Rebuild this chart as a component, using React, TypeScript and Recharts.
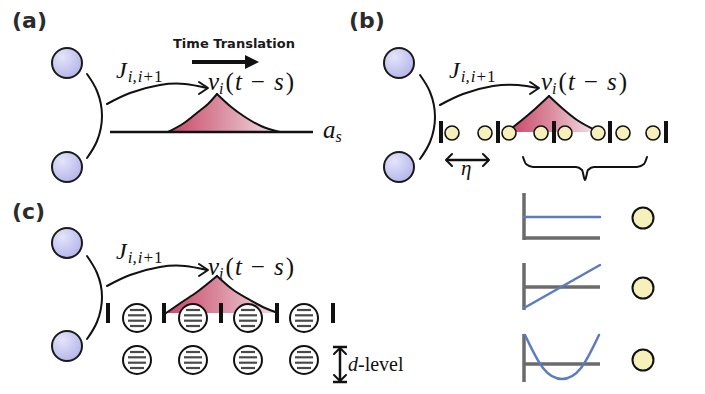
import React from "react";
import {
  ComposedChart,
  XAxis,
  YAxis,
  Line,
  Area,
  Scatter,
  ReferenceLine,
} from "recharts";

// diagram space = page pixels (x right, y down)
const spinNodes = [
  { x: 67, y: 63 },
  { x: 67, y: 167 },
  { x: 399, y: 63 },
  { x: 399, y: 167 },
  { x: 67, y: 243 },
  { x: 67, y: 346 },
];
const qubitSites = [
  { x: 452, y: 133 },
  { x: 485, y: 133 },
  { x: 509, y: 133 },
  { x: 541, y: 133 },
  { x: 565, y: 133 },
  { x: 598, y: 133 },
  { x: 623, y: 133 },
  { x: 653, y: 133 },
];
const basisSites = [
  { x: 643, y: 218 },
  { x: 643, y: 288 },
  { x: 643, y: 360 },
];
const quditSites = [
  { x: 137, y: 318 },
  { x: 193, y: 318 },
  { x: 248, y: 318 },
  { x: 304, y: 318 },
  { x: 137, y: 360 },
  { x: 193, y: 360 },
  { x: 248, y: 360 },
  { x: 304, y: 360 },
];

const brackets = [
  [
    { x: 87, y: 74 },
    { x: 97, y: 91 },
    { x: 102, y: 116 },
    { x: 97, y: 141 },
    { x: 87, y: 158 },
  ],
  [
    { x: 420, y: 75 },
    { x: 430, y: 92 },
    { x: 435, y: 117 },
    { x: 430, y: 142 },
    { x: 420, y: 159 },
  ],
  [
    { x: 87, y: 256 },
    { x: 97, y: 273 },
    { x: 102, y: 297 },
    { x: 97, y: 322 },
    { x: 87, y: 339 },
  ],
];

const couplingArcs = [
  [
    { x: 107, y: 104 },
    { x: 130, y: 93 },
    { x: 160, y: 85 },
    { x: 185, y: 84 },
    { x: 207, y: 88 },
  ],
  [
    { x: 440, y: 105 },
    { x: 463, y: 94 },
    { x: 493, y: 86 },
    { x: 518, y: 85 },
    { x: 538, y: 88 },
  ],
  [
    { x: 107, y: 286 },
    { x: 130, y: 275 },
    { x: 160, y: 267 },
    { x: 185, y: 266 },
    { x: 207, y: 270 },
  ],
];
const chevrons = [
  [{ x: 199, y: 82 }, { x: 208, y: 88 }, { x: 199, y: 94 }],
  [{ x: 530, y: 82 }, { x: 539, y: 88 }, { x: 530, y: 94 }],
  [{ x: 199, y: 264 }, { x: 208, y: 270 }, { x: 199, y: 276 }],
  // eta arrow
  [{ x: 452, y: 154 }, { x: 446, y: 160 }, { x: 452, y: 166 }],
  [{ x: 483, y: 154 }, { x: 489, y: 160 }, { x: 483, y: 166 }],
  // d-level arrow
  [{ x: 334, y: 354 }, { x: 340, y: 348 }, { x: 346, y: 354 }],
  [{ x: 334, y: 375 }, { x: 340, y: 381 }, { x: 346, y: 375 }],
];

// pulse v_i(t-s): rising and falling halves, [base, top]
const pulses = [
  {
    rise: [
      { x: 168, y: [132, 132] },
      { x: 184, y: [132, 123] },
      { x: 198, y: [132, 112] },
      { x: 208, y: [132, 104] },
      { x: 217, y: [132, 94] },
    ],
    fall: [
      { x: 217, y: [132, 94] },
      { x: 230, y: [132, 106] },
      { x: 245, y: [132, 117] },
      { x: 261, y: [132, 126] },
      { x: 280, y: [132, 132] },
    ],
  },
  {
    rise: [
      { x: 508, y: [132, 131] },
      { x: 522, y: [132, 120] },
      { x: 535, y: [132, 109] },
      { x: 549, y: [132, 96] },
    ],
    fall: [
      { x: 549, y: [132, 96] },
      { x: 562, y: [132, 108] },
      { x: 577, y: [132, 120] },
      { x: 595, y: [132, 130] },
    ],
  },
  {
    rise: [
      { x: 166, y: [313, 313] },
      { x: 182, y: [313, 302] },
      { x: 197, y: [313, 292] },
      { x: 217, y: [313, 276] },
    ],
    fall: [
      { x: 217, y: [313, 276] },
      { x: 232, y: [313, 289] },
      { x: 250, y: [313, 300] },
      { x: 265, y: [313, 308] },
      { x: 278, y: [313, 313] },
    ],
  },
];

const brace = [
  { x: 523, y: 157 },
  { x: 526, y: 164 },
  { x: 533, y: 167 },
  { x: 576, y: 167 },
  { x: 582, y: 170 },
  { x: 585, y: 180 },
  { x: 588, y: 170 },
  { x: 594, y: 167 },
  { x: 637, y: 167 },
  { x: 644, y: 164 },
  { x: 647, y: 157 },
];

const arrowHead = [
  { x: 245, y: [55, 69] },
  { x: 259, y: [62, 62] },
];

// straight segments [x1, y1, x2, y2]
const blackSegments = [
  [110, 132, 313, 132], // a_s chain
  [192, 62, 246, 62], // time translation shaft
  [446, 160, 489, 160], // eta
  [340, 348, 340, 381], // d-level
  [333, 347, 347, 347],
  [333, 382, 347, 382],
];
const barsB = [441, 498, 554, 610, 666];
const barsC = [108, 164, 221, 277, 333];

const plotAxes = [
  [524, 193, 524, 240],
  [524, 238, 600, 238],
  [524, 263, 524, 310],
  [524, 287, 600, 287],
  [524, 334, 524, 382],
  [524, 364, 600, 364],
];
const basisCurves = [
  [{ x: 524, y: 217 }, { x: 600, y: 217 }],
  [{ x: 524, y: 308 }, { x: 600, y: 265 }],
  [
    { x: 525, y: 335 },
    { x: 543, y: 368 },
    { x: 562, y: 379 },
    { x: 581, y: 368 },
    { x: 599, y: 335 },
  ],
];

const panelLabels = [
  { x: 12, y: 28, text: "(a)" },
  { x: 349, y: 28, text: "(b)" },
  { x: 12, y: 219, text: "(c)" },
];
const titleLabels = [{ x: 173, y: 48, text: "Time Translation" }];
const couplingLabels = [
  { x: 116, y: 78 },
  { x: 449, y: 78 },
  { x: 116, y: 259 },
];
const pulseLabels = [
  { x: 208, y: 90 },
  { x: 541, y: 90 },
  { x: 208, y: 275 },
];
const chainLabels = [{ x: 323, y: 138 }];
const etaLabels = [{ x: 461, y: 175 }];
const levelLabels = [{ x: 348, y: 371 }];

const INK = "#111";
const SERIF = "'Liberation Serif', serif";

const seg = (s: number[], i: string, color: string, w: number) => (
  <ReferenceLine
    key={i}
    segment={[
      { x: s[0], y: s[1] },
      { x: s[2], y: s[3] },
    ]}
    stroke={color}
    strokeWidth={w}
    ifOverflow="visible"
  />
);

const path = (
  pts: { x: number; y: number }[],
  key: string,
  type: any,
  color = INK,
  w = 2,
) => (
  <Line
    key={key}
    data={pts}
    dataKey="y"
    type={type}
    stroke={color}
    strokeWidth={w}
    dot={false}
    activeDot={false}
    strokeLinejoin="round"
    strokeLinecap="round"
    isAnimationActive={false}
  />
);

export default function App() {
  return (
    <div style={{ position: "absolute", left: 0, top: 0, background: "#fff" }}>
      <ComposedChart
        width={705}
        height={394}
        margin={{ top: 0, right: 0, bottom: 0, left: 0 }}
      >
        <defs>
          <radialGradient id="spin" cx="35%" cy="30%" r="75%">
            <stop offset="0%" stopColor="#e4e4fa" />
            <stop offset="100%" stopColor="#b4b5ea" />
          </radialGradient>
          <linearGradient id="rise" x1="0" y1="0" x2="1" y2="0">
            <stop offset="0%" stopColor="#ca446a" />
            <stop offset="100%" stopColor="#d9889c" />
          </linearGradient>
          <linearGradient id="fall" x1="0" y1="0" x2="1" y2="0">
            <stop offset="0%" stopColor="#d9889c" />
            <stop offset="100%" stopColor="#f3e1e6" />
          </linearGradient>
        </defs>
        <XAxis type="number" dataKey="x" domain={[0, 705]} hide allowDataOverflow />
        <YAxis
          type="number"
          dataKey="y"
          domain={[0, 394]}
          reversed
          hide
          allowDataOverflow
        />

        {pulses.map((p, i) => (
          <Area
            key={"r" + i}
            data={p.rise}
            dataKey="y"
            type="monotone"
            fill="url(#rise)"
            fillOpacity={1}
            stroke="none"
            isAnimationActive={false}
          />
        ))}
        {pulses.map((p, i) => (
          <Area
            key={"f" + i}
            data={p.fall}
            dataKey="y"
            type="monotone"
            fill="url(#fall)"
            fillOpacity={1}
            stroke="none"
            isAnimationActive={false}
          />
        ))}
        <Area
          data={arrowHead}
          dataKey="y"
          type="linear"
          fill={INK}
          fillOpacity={1}
          stroke="none"
          isAnimationActive={false}
        />

        {pulses.map((p, i) =>
          path(p.rise.map((d) => ({ x: d.x, y: d.y[1] })), "pr" + i, "monotone"),
        )}
        {pulses.map((p, i) =>
          path(p.fall.map((d) => ({ x: d.x, y: d.y[1] })), "pf" + i, "monotone"),
        )}
        {brackets.map((b, i) => path(b, "b" + i, "natural"))}
        {couplingArcs.map((b, i) => path(b, "c" + i, "natural"))}
        {chevrons.map((b, i) => path(b, "h" + i, "linear"))}
        {path(brace, "brace", "monotone")}

        {plotAxes.map((s, i) => seg(s, "ax" + i, "#6b6b6b", 3.5))}
        {basisCurves.map((b, i) => path(b, "bc" + i, "natural", "#5b7dbd", 2.5))}
        {blackSegments.map((s, i) =>
          seg(s, "s" + i, INK, i === 0 ? 2.5 : i === 1 ? 4 : 2.5),
        )}
        {barsB.map((x, i) => seg([x, 121, x, 143], "bb" + i, INK, 4))}
        {barsC.map((x, i) => seg([x, 303, x, 323], "bc" + i, INK, 4))}

        <Scatter
          data={spinNodes}
          isAnimationActive={false}
          shape={(p: any) => (
            <circle cx={p.cx} cy={p.cy} r={15} fill="url(#spin)" stroke="#1a1a1a" strokeWidth={2} />
          )}
        />
        <Scatter
          data={qubitSites}
          isAnimationActive={false}
          shape={(p: any) => (
            <circle cx={p.cx} cy={p.cy} r={7} fill="#f6f0ba" stroke={INK} strokeWidth={1.6} />
          )}
        />
        <Scatter
          data={basisSites}
          isAnimationActive={false}
          shape={(p: any) => (
            <circle cx={p.cx} cy={p.cy} r={10.5} fill="#f6f0ba" stroke={INK} strokeWidth={2} />
          )}
        />
        <Scatter
          data={quditSites}
          isAnimationActive={false}
          shape={(p: any) => (
            <g>
              <circle cx={p.cx} cy={p.cy} r={14} fill="#fff" stroke={INK} strokeWidth={2} />
              {[-8, -2.7, 2.7, 8].map((dy, k) => {
                const hw = Math.abs(dy) > 5 ? 7 : 9;
                return (
                  <line
                    key={k}
                    x1={p.cx - hw}
                    x2={p.cx + hw}
                    y1={p.cy + dy}
                    y2={p.cy + dy}
                    stroke="#4a4a4a"
                    strokeWidth={2.2}
                  />
                );
              })}
            </g>
          )}
        />

        <Scatter
          data={panelLabels}
          isAnimationActive={false}
          shape={(p: any) => (
            <text x={p.cx} y={p.cy} fontFamily="'DejaVu Sans'" fontWeight="bold" fontSize={22} fill="#2b2b2b">
              {p.payload.text}
            </text>
          )}
        />
        <Scatter
          data={titleLabels}
          isAnimationActive={false}
          shape={(p: any) => (
            <text
              x={p.cx}
              y={p.cy}
              fontFamily="'DejaVu Sans'"
              fontWeight="bold"
              fontSize={13}
              fill="#1a1a1a"
              textLength={122}
              lengthAdjust="spacingAndGlyphs"
            >
              {p.payload.text}
            </text>
          )}
        />
        <Scatter
          data={couplingLabels}
          isAnimationActive={false}
          shape={(p: any) => (
            <text x={p.cx} y={p.cy} fontFamily={SERIF} fontStyle="italic" fontSize={24} fill={INK}>
              J
              <tspan fontSize={17} dy={4} dx={1}>
                i,
              </tspan>
              <tspan fontSize={17} dx={1}>
                i
              </tspan>
              <tspan fontSize={17} fontStyle="normal" dx={1}>
                +
              </tspan>
              <tspan fontSize={17} fontStyle="normal" dx={1}>
                1
              </tspan>
            </text>
          )}
        />
        <Scatter
          data={pulseLabels}
          isAnimationActive={false}
          shape={(p: any) => (
            <text x={p.cx} y={p.cy} fontFamily={SERIF} fontStyle="italic" fontSize={25} fill={INK}>
              v
              <tspan fontSize={16} dy={4}>
                i
              </tspan>
              <tspan dy={-4} dx={2} fontStyle="normal">
                (
              </tspan>
              <tspan dx={1}>t</tspan>
              <tspan fontStyle="normal" dx={9}>
                −
              </tspan>
              <tspan dx={9}>s</tspan>
              <tspan fontStyle="normal" dx={2}>
                )
              </tspan>
            </text>
          )}
        />
        <Scatter
          data={chainLabels}
          isAnimationActive={false}
          shape={(p: any) => (
            <text x={p.cx} y={p.cy} fontFamily={SERIF} fontStyle="italic" fontSize={25} fill={INK}>
              a
              <tspan fontSize={16} dy={4}>
                s
              </tspan>
            </text>
          )}
        />
        <Scatter
          data={etaLabels}
          isAnimationActive={false}
          shape={(p: any) => (
            <text x={p.cx} y={p.cy} fontFamily={SERIF} fontStyle="italic" fontSize={21} fill={INK}>
              η
            </text>
          )}
        />
        <Scatter
          data={levelLabels}
          isAnimationActive={false}
          shape={(p: any) => (
            <text x={p.cx} y={p.cy} fontFamily={SERIF} fontSize={20} fill={INK}>
              <tspan fontStyle="italic">d</tspan>-level
            </text>
          )}
        />
      </ComposedChart>
    </div>
  );
}
